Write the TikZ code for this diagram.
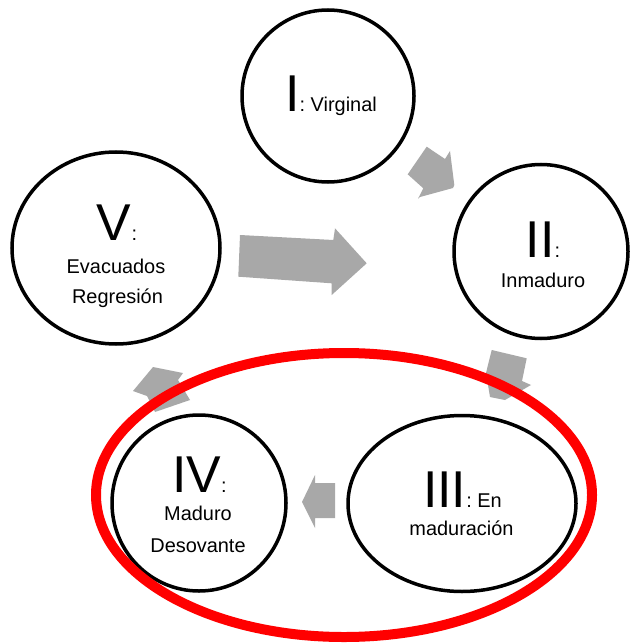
\documentclass[tikz,border=0pt]{standalone}
\usepackage{fontspec}
\setmainfont{Liberation Sans}
\usetikzlibrary{shapes.geometric}
\definecolor{arrowgray}{RGB}{168,168,168}
\definecolor{ringred}{RGB}{255,0,0}
\newcommand\numsz{\fontsize{52}{52}\selectfont}
\newcommand\lblsz{\fontsize{20}{24}\selectfont}
\tikzset{
  stage/.style={ellipse, draw=black, line width=3.5bp, fill=white, inner sep=0pt},
  blockarrow/.style={fill=arrowgray},
  ring/.style={ellipse, draw=ringred, line width=10bp, inner sep=0pt},
  lbl/.style={anchor=base, inner sep=0pt, font=\lblsz},
}
\begin{document}
\begin{tikzpicture}[x=1bp, y=-1bp]
\useasboundingbox[fill=white] (0,0) rectangle (633,643);

% gray block arrows
\fill[blockarrow] (426.7,146.7) -- (445,159) -- (450,151) -- (454.3,185) -- (453,188)
  -- (420,197) -- (418,198.7) -- (423.3,188.3) -- (407.7,174.3) -- cycle;
\fill[blockarrow] (240,235) -- (333.3,240) -- (335,228.3) -- (366.7,263.3)
  -- (331.7,295) -- (331.7,283.3) -- (238.3,276.7) -- cycle;
\fill[blockarrow] (491.7,350) -- (526.7,358.3) -- (522,381) -- (531,385)
  -- (505,400) -- (490,397) -- (486,373) -- cycle;
\fill[blockarrow] (302,502) -- (315,475) -- (315,483) -- (335,483) -- (335,518)
  -- (315,518) -- (315,528) -- cycle;
\fill[blockarrow] (133,391) -- (153,367) -- (183,373) -- (178,380) -- (190,400)
  -- (155,412) -- (147,396) -- cycle;

% stages
\node[stage, minimum width=172bp, minimum height=172bp] (s1) at (328,96) {};
\node[stage, minimum width=174bp, minimum height=174bp] (s2) at (541,251.5) {};
\node[stage, minimum width=228bp, minimum height=176bp] (s3) at (462,503.5) {};
\node[stage, minimum width=174bp, minimum height=176bp] (s4) at (199,503) {};
\node[stage, minimum width=208bp, minimum height=192bp] (s5) at (116,248) {};

% red ring
\node[ring, minimum width=496bp, minimum height=284bp] (r) at (344,495) {};

% labels
\node[lbl] (t1a) at (331,112) {{\numsz I}: Virginal};
\node[lbl] (t2a) at (543,257) {{\numsz II}:};
\node[lbl] (t2b) at (543,287) {Inmaduro};
\node[lbl] (t3a) at (462.5,507) {{\numsz III}: En};
\node[lbl] (t3b) at (461.5,535) {maduración};
\node[lbl] (t4a) at (199.5,492) {{\numsz IV}:};
\node[lbl] (t4b) at (198,520) {Maduro};
\node[lbl] (t4c) at (198,552) {Desovante};
\node[lbl] (t5a) at (117,240) {{\numsz V}:};
\node[lbl] (t5b) at (116,273) {Evacuados};
\node[lbl] (t5c) at (117.5,303) {Regresión};
\end{tikzpicture}
\end{document}
